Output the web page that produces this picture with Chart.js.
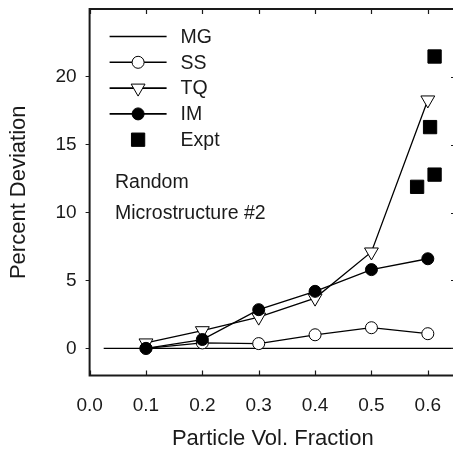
<!DOCTYPE html>
<html lang="en">
<head>
<meta charset="UTF-8">
<title>Percent Deviation vs Particle Vol. Fraction</title>
<script src="https://cdn.jsdelivr.net/npm/chart.js"></script>
<style>
    html, body { margin: 0; padding: 0; overflow: hidden; background: #fff; }
    /* the right frame edge sits just past the window, as in the original */
    .wrap { width: 453px; height: 453px; overflow: hidden; position: relative; }
    canvas { display: block; }
</style>
</head>
<body>
<div class="wrap">
    <canvas id="devChart" width="460" height="453"></canvas>
</div>
<script>
    // data
    const fractions = [0.1, 0.2, 0.3, 0.4, 0.5, 0.6];
    const ssValues = [0.0, 0.4, 0.35, 1.0, 1.52, 1.08];
    const tqValues = [0.4, 1.3, 2.3, 3.7, 7.1, 18.3];
    const imValues = [0.0, 0.65, 2.85, 4.2, 5.8, 6.6];
    const mgX = [0.025, 0.65];
    const mgValues = [0, 0];
    const exptX = [0.581, 0.604, 0.612, 0.612];
    const exptValues = [11.9, 16.3, 12.8, 21.5];
    const xTicks = [0, 0.1, 0.2, 0.3, 0.4, 0.5, 0.6];
    const yTicks = [0, 5, 10, 15, 20];
    const legendLabels = ['MG', 'SS', 'TQ', 'IM', 'Expt'];
    const notes = ['Random', 'Microstructure #2'];

    const FONT = "'Liberation Sans', Arial, Helvetica, sans-serif";
    const INK = '#1a1a1a';
    const LW = 1.3;

    const toPoints = (xs, ys) => xs.map((x, i) => ({ x: x, y: ys[i] }));

    // legend marker styles, same order as legendLabels
    const legendMarks = [
        { line: true, style: null },
        { line: true, style: 'circle', fill: '#fff', r: 6 },
        { line: true, style: 'triangle', fill: '#fff', r: 8 },
        { line: true, style: 'circle', fill: '#000', r: 6 },
        { line: false, style: 'rect', fill: '#000', r: 9.4 }
    ];

    function drawMark(ctx, m, x, y) {
        ctx.save();
        ctx.fillStyle = m.fill;
        ctx.strokeStyle = '#000';
        ctx.lineWidth = 1;
        ctx.beginPath();
        if (m.style === 'circle') {
            ctx.arc(x, y, m.r, 0, Math.PI * 2);
        } else if (m.style === 'triangle') {
            // pointing down
            for (let k = 0; k < 3; k++) {
                const a = Math.PI + k * 2 * Math.PI / 3;
                const px = x + Math.sin(a) * m.r, py = y - Math.cos(a) * m.r;
                k === 0 ? ctx.moveTo(px, py) : ctx.lineTo(px, py);
            }
            ctx.closePath();
        } else if (m.style === 'rect') {
            const s = m.r * Math.SQRT1_2;
            ctx.rect(x - s, y - s, 2 * s, 2 * s);
        }
        ctx.fill();
        ctx.stroke();
        ctx.restore();
    }

    const framePlugin = {
        id: 'frame',
        afterDraw(chart) {
            const ctx = chart.ctx;
            const a = chart.chartArea;
            const xs = chart.scales.x, ys = chart.scales.y;
            ctx.save();
            ctx.strokeStyle = INK;
            ctx.lineWidth = 2;
            ctx.strokeRect(a.left, a.top, a.right - a.left, a.bottom - a.top);
            ctx.lineWidth = 1.2;
            ctx.beginPath();
            // inward ticks on top and bottom
            xTicks.forEach(v => {
                const px = Math.round(xs.getPixelForValue(v)) + 0.5;
                ctx.moveTo(px, a.top); ctx.lineTo(px, a.top + 5);
                ctx.moveTo(px, a.bottom); ctx.lineTo(px, a.bottom - 5);
            });
            // inward ticks on the right
            yTicks.forEach(v => {
                const py = Math.round(ys.getPixelForValue(v)) + 0.5;
                ctx.moveTo(a.right, py); ctx.lineTo(a.right - 5, py);
            });
            ctx.stroke();

            // legend
            ctx.font = '19.5px ' + FONT;
            ctx.fillStyle = INK;
            ctx.textBaseline = 'middle';
            legendLabels.forEach((lab, i) => {
                const y = a.top + 27.5 + i * 25.8;
                const m = legendMarks[i];
                if (m.line) {
                    ctx.beginPath();
                    ctx.strokeStyle = '#000';
                    ctx.lineWidth = 1.6;
                    ctx.moveTo(a.left + 20, y); ctx.lineTo(a.left + 77, y);
                    ctx.stroke();
                }
                if (m.style) drawMark(ctx, m, a.left + 48.5, y);
                ctx.fillStyle = INK;
                ctx.fillText(lab, a.left + 91, y + 1);
            });

            // annotation text
            ctx.fillText(notes[0], xs.getPixelForValue(0.045), ys.getPixelForValue(12.2));
            ctx.fillText(notes[1], xs.getPixelForValue(0.045), ys.getPixelForValue(9.95));
            ctx.restore();
        }
    };

    const ctx = document.getElementById('devChart').getContext('2d');
    const devChart = new Chart(ctx, {
        type: 'scatter',
        data: {
            datasets: [
                {
                    label: 'MG',
                    data: toPoints(mgX, mgValues),
                    showLine: true,
                    borderColor: '#000',
                    borderWidth: LW,
                    pointRadius: 0,
                    order: 5
                },
                {
                    label: 'SS',
                    data: toPoints(fractions, ssValues),
                    showLine: true,
                    borderColor: '#000',
                    borderWidth: LW,
                    pointStyle: 'circle',
                    pointRadius: 6,
                    pointBackgroundColor: '#fff',
                    pointBorderColor: '#000',
                    pointBorderWidth: 1,
                    order: 4
                },
                {
                    label: 'TQ',
                    data: toPoints(fractions, tqValues),
                    showLine: true,
                    borderColor: '#000',
                    borderWidth: LW,
                    pointStyle: 'triangle',
                    rotation: 180,
                    pointRadius: 8,
                    pointBackgroundColor: '#fff',
                    pointBorderColor: '#000',
                    pointBorderWidth: 1,
                    order: 3
                },
                {
                    label: 'IM',
                    data: toPoints(fractions, imValues),
                    showLine: true,
                    borderColor: '#000',
                    borderWidth: LW,
                    pointStyle: 'circle',
                    pointRadius: 6,
                    pointBackgroundColor: '#000',
                    pointBorderColor: '#000',
                    pointBorderWidth: 1,
                    order: 2
                },
                {
                    label: 'Expt',
                    data: toPoints(exptX, exptValues),
                    showLine: false,
                    pointStyle: 'rect',
                    pointRadius: 9.4,
                    pointBackgroundColor: '#000',
                    pointBorderColor: '#000',
                    pointBorderWidth: 1,
                    order: 1
                }
            ]
        },
        options: {
            responsive: false,
            animation: false,
            layout: { autoPadding: false, padding: { top: 9, right: 4, bottom: 0, left: 0 } },
            plugins: {
                legend: { display: false },
                tooltip: { enabled: false }
            },
            scales: {
                x: {
                    type: 'linear',
                    min: 0,
                    max: 0.65,
                    afterBuildTicks: s => { s.ticks = xTicks.map(v => ({ value: v })); },
                    afterFit: s => { s.height = 77.5; s.paddingLeft = 0; s.paddingRight = 0; },
                    grid: { display: true, drawOnChartArea: false, drawTicks: false },
                    border: { display: false },
                    ticks: {
                        padding: 19,
                        color: INK,
                        font: { family: FONT, size: 19 },
                        maxRotation: 0,
                        callback: v => v.toFixed(1)
                    },
                    title: {
                        display: true,
                        text: 'Particle Vol. Fraction',
                        color: INK,
                        font: { family: FONT, size: 22 },
                        padding: { top: 0, bottom: 1 }
                    }
                },
                y: {
                    type: 'linear',
                    min: -2,
                    max: 25,
                    afterBuildTicks: s => { s.ticks = yTicks.map(v => ({ value: v })); },
                    afterFit: s => { s.width = 89.6; s.paddingTop = 0; s.paddingBottom = 0; },
                    grid: { display: true, drawOnChartArea: false, drawTicks: true, tickLength: 4, color: INK },
                    border: { display: false },
                    ticks: {
                        padding: 9,
                        color: INK,
                        font: { family: FONT, size: 19 }
                    },
                    title: {
                        display: true,
                        text: 'Percent Deviation',
                        color: INK,
                        font: { family: FONT, size: 22 },
                        padding: { top: 6, bottom: 0 }
                    }
                }
            }
        },
        plugins: [framePlugin]
    });
</script>
</body>
</html>
